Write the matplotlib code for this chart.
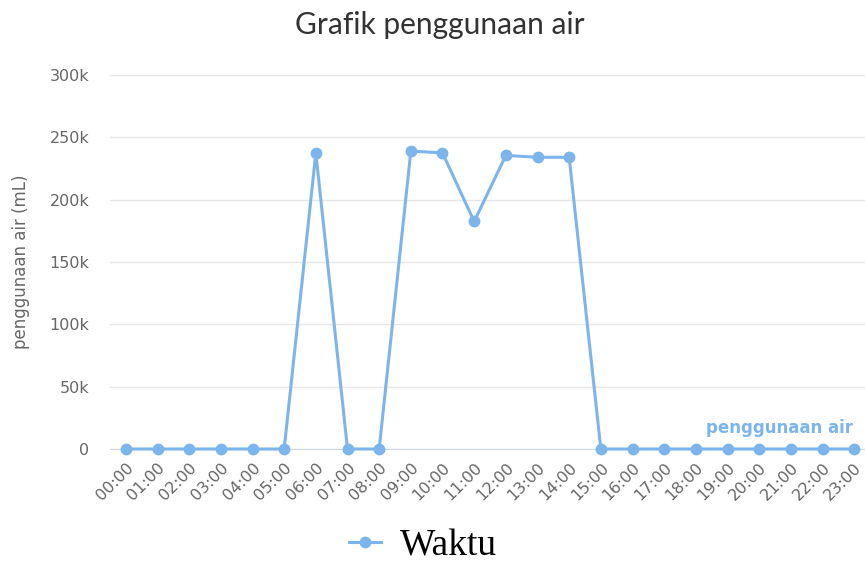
import matplotlib
matplotlib.use('Agg')
import matplotlib.pyplot as plt
from matplotlib.ticker import FuncFormatter

# data
hours = ['00:00', '01:00', '02:00', '03:00', '04:00', '05:00', '06:00', '07:00',
         '08:00', '09:00', '10:00', '11:00', '12:00', '13:00', '14:00', '15:00',
         '16:00', '17:00', '18:00', '19:00', '20:00', '21:00', '22:00', '23:00']
usage_ml = [0, 0, 0, 0, 0, 0, 237500, 0,
            0, 239000, 237500, 182500, 235500, 234000, 234000, 0,
            0, 0, 0, 0, 0, 0, 0, 0]
y_ticks = [0, 50000, 100000, 150000, 200000, 250000, 300000]

line_color = '#7cb5ec'
label_color = '#666666'

plt.rcParams['font.family'] = ['DejaVu Sans']

fig = plt.figure(figsize=(8.65, 5.64), dpi=100)
ax = fig.add_axes([110 / 865, 1 - 449 / 564, 760 / 865, (449 - 75) / 564])

x = list(range(len(hours)))
line, = ax.plot(x, usage_ml, color=line_color, linewidth=2.2, marker='o',
                markersize=7.5, label='Waktu', zorder=3, clip_on=False)

ax.set_xlim(-0.5, 23.5)
ax.set_ylim(0, 300000)
ax.set_yticks(y_ticks)
ax.yaxis.set_major_formatter(FuncFormatter(lambda v, p: '0' if v == 0 else '%dk' % (v / 1000)))
ax.set_xticks(x)
ax.set_xticklabels(hours, rotation=45, ha='right', rotation_mode='anchor')

ax.grid(axis='y', color='#e6e6e6', linewidth=1)
ax.set_axisbelow(True)
for side in ['top', 'right', 'left']:
    ax.spines[side].set_visible(False)
ax.spines['bottom'].set_color('#ccd6eb')
ax.tick_params(axis='both', length=0, labelsize=11.5, labelcolor=label_color)
ax.tick_params(axis='y', pad=15)
ax.tick_params(axis='x', pad=8)

ax.set_ylabel('penggunaan air (mL)', fontsize=12, color=label_color, labelpad=14)

fig.suptitle('Grafik penggunaan air', x=0.508, y=0.98, fontsize=21.5,
             color='#333333', family='Lato')

# series label near the end of the line
ax.text(22.95, 17000, 'penggunaan air', color=line_color, fontsize=12,
        fontweight='bold', ha='right', va='center')

fig.legend(handles=[line], loc='center', bbox_to_anchor=(423 / 865, 1 - 546 / 564),
           frameon=False, prop={'family': 'Liberation Serif', 'size': 27},
           handlelength=0.85, handletextpad=0.5, borderaxespad=0)

fig.savefig('out.png', dpi=100)
